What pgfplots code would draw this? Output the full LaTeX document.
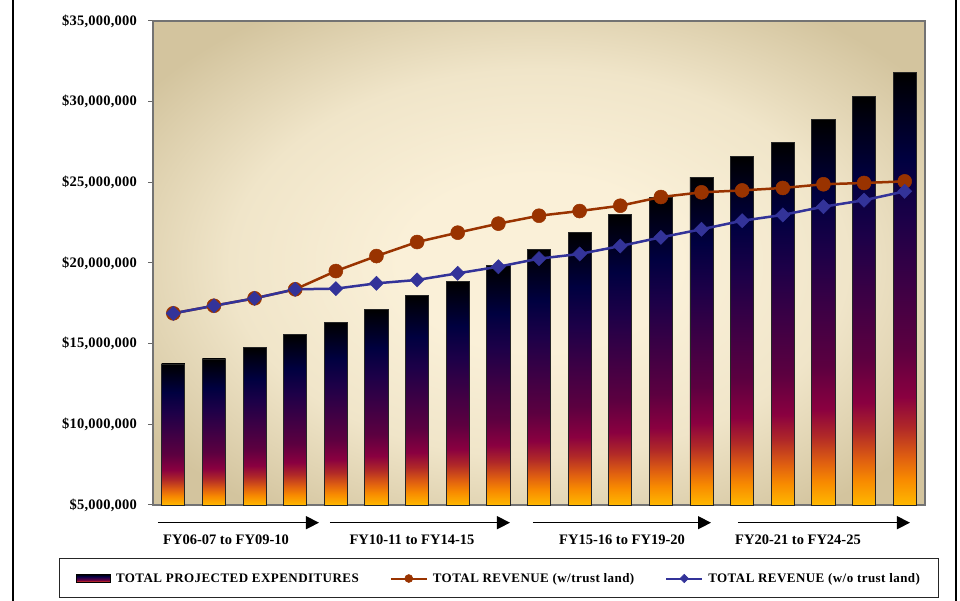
\documentclass[border=0pt]{standalone}
\usepackage{fontspec}
\setmainfont{Liberation Serif}
\usepackage{pgfplots}
\pgfplotsset{compat=1.18}
\usetikzlibrary{arrows.meta}
\definecolor{bgin}{HTML}{FAF0D8}
\definecolor{bgmid}{HTML}{F0E5C9}
\definecolor{bgout}{HTML}{D3C49E}
\definecolor{s0}{HTML}{FFB800}
\definecolor{s1}{HTML}{F88A00}
\definecolor{s2}{HTML}{E06010}
\definecolor{s3}{HTML}{B02828}
\definecolor{s4}{HTML}{8A0040}
\definecolor{s5}{HTML}{5C0040}
\definecolor{s6}{HTML}{3A0045}
\definecolor{s7}{HTML}{1C0048}
\definecolor{s8}{HTML}{000040}
\definecolor{s9}{HTML}{000000}
\definecolor{redline}{HTML}{993300}
\definecolor{blueline}{HTML}{333399}
\pgfdeclareverticalshading{barshade}{100bp}{color(0bp)=(s0); color(25bp)=(s0); color(28bp)=(s1); color(30.5bp)=(s2); color(34bp)=(s3); color(37.5bp)=(s4); color(43bp)=(s5); color(51bp)=(s6); color(58bp)=(s7); color(65bp)=(s8); color(75bp)=(s9); color(100bp)=(s9)}
\pgfdeclareradialshading{bgshade}{\pgfpoint{0bp}{0bp}}{color(0bp)=(bgin); color(9bp)=(bgin); color(20bp)=(bgmid); color(31bp)=(bgout); color(50bp)=(bgout)}
\pgfplotsset{
  barst/.style={ybar, bar width=0.57, bar shift=0pt, draw=black!85, line width=0.8pt, shade, shading=barshade, forget plot},
  barlegend/.style={legend image code/.code={\draw[draw=black, line width=0.8pt, shade, shading=barshade] (0pt,-4pt) rectangle (34pt,4pt);}},
  redlegend/.style={legend image code/.code={\draw[mark repeat=2, mark phase=2, ##1, line width=2pt, mark size=4pt] plot coordinates {(0pt,0pt) (18pt,0pt) (36pt,0pt)};}},
  bluelegend/.style={legend image code/.code={\draw[mark repeat=2, mark phase=2, ##1, line width=2pt, mark size=3pt] plot coordinates {(0pt,0pt) (18pt,0pt) (36pt,0pt)};}},
}
\begin{document}
\begin{tikzpicture}
\path[use as bounding box] (0pt,0pt) rectangle (960pt,601pt);
\draw[line width=2pt] (13pt,0pt) -- (13pt,601pt);
\draw[line width=1.5pt] (956pt,0pt) -- (956pt,601pt);
\draw[line width=1pt, draw=black!85] (59.5pt,3pt) rectangle (938pt,42pt);
\begin{axis}[
  at={(153pt,96pt)}, anchor=south west,
  scale only axis, width=772pt, height=484pt,
  xmin=-0.5, xmax=18.5, ymin=5000000, ymax=35000000,
  xtick=\empty,
  scaled y ticks=false,
  ytick={5000000,10000000,15000000,20000000,25000000,30000000,35000000},
  yticklabels={{\$5,000,000},{\$10,000,000},{\$15,000,000},{\$20,000,000},{\$25,000,000},{\$30,000,000},{\$35,000,000}},
  ytick pos=left, tick align=outside, major tick length=5pt,
  tick style={draw=black!60, line width=1pt},
  axis line style={draw=black!55, line width=1.3pt},
  yticklabel style={font=\fontsize{14.5}{16}\selectfont\bfseries\addfontfeature{LetterSpace=1.5}, inner sep=0pt, xshift=-11pt},
  axis background/.style={shade, shading=bgshade},
  clip=false,
  legend columns=3,
  legend style={draw=none, fill=none, at={(-0.0997,-0.1519)}, anchor=west, inner sep=0pt,
    font=\fontsize{13}{15}\selectfont\bfseries\addfontfeature{LetterSpace=3.5},
    nodes={inner sep=0pt},
    /tikz/every odd column/.append style={column sep=5pt},
    /tikz/every even column/.append style={column sep=31pt}},
]
\addplot[barst, forget plot=false, barlegend] coordinates {(0,13740000)};
\addlegendentry{TOTAL PROJECTED EXPENDITURES}
\addplot[barst] coordinates {(1,14050000)};
\addplot[barst] coordinates {(2,14770000)};
\addplot[barst] coordinates {(3,15560000)};
\addplot[barst] coordinates {(4,16340000)};
\addplot[barst] coordinates {(5,17130000)};
\addplot[barst] coordinates {(6,18000000)};
\addplot[barst] coordinates {(7,18850000)};
\addplot[barst] coordinates {(8,19830000)};
\addplot[barst] coordinates {(9,20850000)};
\addplot[barst] coordinates {(10,21880000)};
\addplot[barst] coordinates {(11,23000000)};
\addplot[barst] coordinates {(12,24090000)};
\addplot[barst] coordinates {(13,25330000)};
\addplot[barst] coordinates {(14,26600000)};
\addplot[barst] coordinates {(15,27460000)};
\addplot[barst] coordinates {(16,28880000)};
\addplot[barst] coordinates {(17,30310000)};
\addplot[barst] coordinates {(18,31800000)};
\addplot[redline, line width=2.5pt, mark=*, mark size=7pt, mark options={fill=redline, draw=redline, line width=0.5pt}, redlegend]
coordinates {(0,16880000) (1,17350000) (2,17810000) (3,18370000) (4,19500000) (5,20430000) (6,21300000) (7,21880000) (8,22440000) (9,22930000) (10,23220000) (11,23550000) (12,24090000) (13,24380000) (14,24500000) (15,24650000) (16,24880000) (17,24960000) (18,25060000)};
\addlegendentry{TOTAL REVENUE (w/trust land)}
\addplot[blueline, line width=2.5pt, mark=square*, mark size=5pt, mark options={rotate=45, fill=blueline, draw=blueline, line width=0.5pt}, bluelegend]
coordinates {(0,16880000) (1,17350000) (2,17810000) (3,18370000) (4,18410000) (5,18740000) (6,18950000) (7,19360000) (8,19770000) (9,20270000) (10,20560000) (11,21050000) (12,21590000) (13,22090000) (14,22620000) (15,22980000) (16,23490000) (17,23890000) (18,24440000)};
\addlegendentry{TOTAL REVENUE (w/o trust land)}
\draw[line width=1.3pt, -{Triangle[length=13pt,width=13pt]}] (axis cs:-0.377,3902900) -- (axis cs:3.585,3902900);
\draw[line width=1.3pt, -{Triangle[length=13pt,width=13pt]}] (axis cs:3.856,3902900) -- (axis cs:8.286,3902900);
\draw[line width=1.3pt, -{Triangle[length=13pt,width=13pt]}] (axis cs:8.852,3902900) -- (axis cs:13.233,3902900);
\draw[line width=1.3pt, -{Triangle[length=13pt,width=13pt]}] (axis cs:13.897,3902900) -- (axis cs:18.13,3902900);
\node[font=\fontsize{14.5}{16}\selectfont\bfseries] at (axis cs:1.297,2830600) {FY06-07 to FY09-10};
\node[font=\fontsize{14.5}{16}\selectfont\bfseries] at (axis cs:5.874,2830600) {FY10-11 to FY14-15};
\node[font=\fontsize{14.5}{16}\selectfont\bfseries] at (axis cs:11.043,2830600) {FY15-16 to FY19-20};
\node[font=\fontsize{14.5}{16}\selectfont\bfseries] at (axis cs:15.374,2830600) {FY20-21 to FY24-25};
\end{axis}
\end{tikzpicture}
\end{document}
